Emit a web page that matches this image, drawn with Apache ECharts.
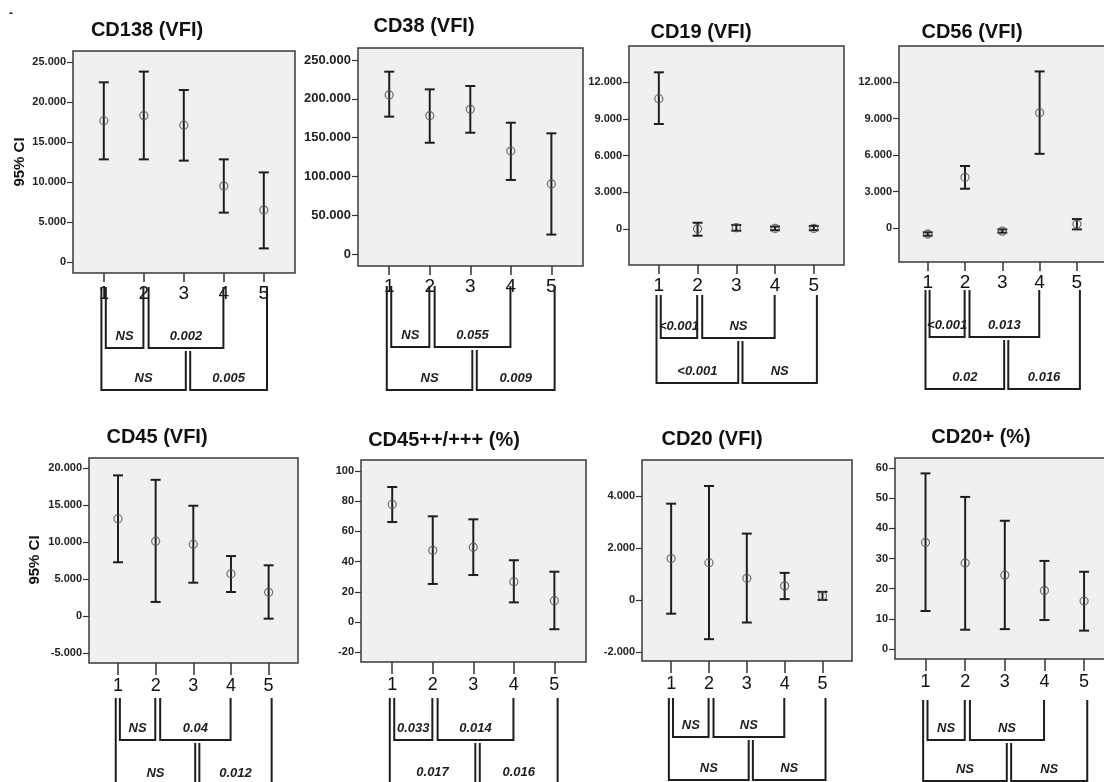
<!DOCTYPE html>
<html>
<head>
<meta charset="utf-8">
<title>CD markers 95% CI</title>
<script src="https://cdn.jsdelivr.net/npm/echarts@6.0.0/dist/echarts.min.js"></script>
<style>
  html, body { margin: 0; padding: 0; background: #fff; }
  #chart { width: 1104px; height: 782px; }
</style>
</head>
<body>
<div id="chart"></div>
<script>
// groups on the x axis
const groups = [1, 2, 3, 4, 5];

// CD138 (VFI)
const cd138Mean = [17.66, 18.3, 17.1, 9.5, 6.5];
const cd138Low = [12.83, 12.83, 12.67, 6.17, 1.7];
const cd138High = [22.46, 23.8, 21.5, 12.83, 11.2];
const cd138P = ['NS', '0.002', 'NS', '0.005'];
const cd138Ticks = [0, 5, 10, 15, 20, 25];

// CD38 (VFI)
const cd38Mean = [204.9, 178.2, 186.5, 132.7, 90.2];
const cd38Low = [177, 143.4, 156.3, 95.4, 25];
const cd38High = [235, 212.2, 216.5, 169.2, 155.5];
const cd38P = ['NS', '0.055', 'NS', '0.009'];
const cd38Ticks = [0, 50, 100, 150, 200, 250];

// CD19 (VFI)
const cd19Mean = [10.64, 0.02, 0.1, 0.05, 0.05];
const cd19Low = [8.57, -0.55, -0.14, -0.1, -0.1];
const cd19High = [12.79, 0.51, 0.33, 0.2, 0.25];
const cd19P = ['<0.001', 'NS', '<0.001', 'NS'];
const cd19Ticks = [0, 3, 6, 9, 12];

// CD56 (VFI)
const cd56Mean = [-0.49, 4.17, -0.25, 9.47, 0.33];
const cd56Low = [-0.63, 3.23, -0.38, 6.1, -0.11];
const cd56High = [-0.35, 5.1, -0.11, 12.87, 0.74];
const cd56P = ['<0.001', '0.013', '0.02', '0.016'];
const cd56Ticks = [0, 3, 6, 9, 12];

// CD45 (VFI)
const cd45Mean = [13.15, 10.1, 9.7, 5.7, 3.2];
const cd45Low = [7.26, 1.9, 4.5, 3.24, -0.36];
const cd45High = [19.0, 18.4, 14.9, 8.1, 6.85];
const cd45P = ['NS', '0.04', 'NS', '0.012'];
const cd45Ticks = [-5, 0, 5, 10, 15, 20];

// CD45++/+++ (%)
const cd45hiMean = [77.9, 47.5, 49.5, 26.7, 14.1];
const cd45hiLow = [66.2, 25.2, 31.1, 13, -4.8];
const cd45hiHigh = [89.4, 70, 68, 40.9, 33.3];
const cd45hiP = ['0.033', '0.014', '0.017', '0.016'];
const cd45hiTicks = [-20, 0, 20, 40, 60, 80, 100];

// CD20 (VFI)
const cd20Mean = [1.59, 1.43, 0.83, 0.54, 0.15];
const cd20Low = [-0.53, -1.51, -0.87, 0.03, 0.0];
const cd20High = [3.7, 4.38, 2.55, 1.04, 0.31];
const cd20P = ['NS', 'NS', 'NS', 'NS'];
const cd20Ticks = [-2, 0, 2, 4];

// CD20+ (%)
const cd20posMean = [35.3, 28.5, 24.5, 19.4, 15.9];
const cd20posLow = [12.6, 6.4, 6.6, 9.6, 6.1];
const cd20posHigh = [58.2, 50.4, 42.5, 29.2, 25.6];
const cd20posP = ['NS', 'NS', 'NS', 'NS'];
const cd20posTicks = [0, 10, 20, 30, 40, 50, 60];

// comparison brackets: 1-2, 2-4, 1-3, 3-5 (x ends in group units)
const bracketX = [[1.05, 1.99], [2.12, 3.99], [0.94, 3.05], [3.16, 5.08]];

const thousands = v => (v === 0 ? '0' : v + '.000');
const plain = v => String(v);

const panels = [
  { title: 'CD138 (VFI)', mean: cd138Mean, low: cd138Low, high: cd138High, p: cd138P, ticks: cd138Ticks, fmt: thousands },
  { title: 'CD38 (VFI)', mean: cd38Mean, low: cd38Low, high: cd38High, p: cd38P, ticks: cd38Ticks, fmt: thousands },
  { title: 'CD19 (VFI)', mean: cd19Mean, low: cd19Low, high: cd19High, p: cd19P, ticks: cd19Ticks, fmt: thousands },
  { title: 'CD56 (VFI)', mean: cd56Mean, low: cd56Low, high: cd56High, p: cd56P, ticks: cd56Ticks, fmt: thousands },
  { title: 'CD45 (VFI)', mean: cd45Mean, low: cd45Low, high: cd45High, p: cd45P, ticks: cd45Ticks, fmt: thousands },
  { title: 'CD45++/+++ (%)', mean: cd45hiMean, low: cd45hiLow, high: cd45hiHigh, p: cd45hiP, ticks: cd45hiTicks, fmt: plain },
  { title: 'CD20 (VFI)', mean: cd20Mean, low: cd20Low, high: cd20High, p: cd20P, ticks: cd20Ticks, fmt: thousands },
  { title: 'CD20+ (%)', mean: cd20posMean, low: cd20posLow, high: cd20posHigh, p: cd20posP, ticks: cd20posTicks, fmt: plain }
];

// layout: plot box [left, top, right, bottom], y range, title centre, bracket offsets below box
const layout = [
  { box: [73, 51, 295, 273], y: [-1.375, 26.375], t: [147, 30], br: [14, 75, 117], lab: 11, row: 0 },
  { box: [358, 48, 583, 266], y: [-15.5, 265.5], t: [424, 26], br: [20, 81, 124], lab: 13, row: 0 },
  { box: [629, 46, 844, 265], y: [-2.94, 14.94], t: [701, 32], br: [30, 73, 118], lab: 11, row: 0 },
  { box: [899, 46, 1106, 262], y: [-2.79, 14.96], t: [972, 32], br: [28, 75, 127], lab: 11, row: 0 },
  { box: [89, 458, 298, 663], y: [-6.35, 21.35], t: [157, 437], br: [35, 77, 122], lab: 11, row: 1 },
  { box: [361, 460, 586, 662], y: [-26.5, 107.3], t: [444, 440], br: [36, 78, 122], lab: 11, row: 1 },
  { box: [642, 460, 852, 661], y: [-2.35, 5.38], t: [712, 439], br: [37, 76, 119], lab: 11, row: 1 },
  { box: [895, 458, 1115, 659], y: [-3.3, 63.3], t: [981, 437], br: [41, 81, 122], lab: 11, row: 1 }
];

const ink = '#1e1e1e';

function renderErrorBar(params, api) {
  const x = api.value(0);
  const lo = api.coord([x, api.value(1)]);
  const hi = api.coord([x, api.value(2)]);
  const w = 5;
  const style = { stroke: ink, lineWidth: 2 };
  return {
    type: 'group',
    children: [
      { type: 'line', shape: { x1: lo[0], y1: hi[1], x2: lo[0], y2: lo[1] }, style },
      { type: 'line', shape: { x1: lo[0] - w, y1: hi[1], x2: lo[0] + w, y2: hi[1] }, style },
      { type: 'line', shape: { x1: lo[0] - w, y1: lo[1], x2: lo[0] + w, y2: lo[1] }, style }
    ]
  };
}

function bracketSeries(idx, pvals, off) {
  return {
    type: 'custom',
    xAxisIndex: idx,
    yAxisIndex: idx,
    clip: false,
    silent: true,
    z: 5,
    data: bracketX.map((b, k) => [b[0], b[1], k]),
    encode: { x: [0, 1], y: 2 },
    renderItem(params, api) {
      const k = api.value(2);
      const cs = params.coordSys;
      const base = cs.y + cs.height;
      const x1 = api.coord([api.value(0), 0])[0];
      const x2 = api.coord([api.value(1), 0])[0];
      const yStart = base + off[0];
      const yMid = base + off[1];
      const yLow = base + off[2];
      let pts, ty;
      if (k < 2) {
        pts = [[x1, yStart], [x1, yMid], [x2, yMid], [x2, yStart]];
        ty = yMid - 12;
      } else if (k === 2) {
        pts = [[x1, yStart], [x1, yLow], [x2, yLow], [x2, yMid + 3]];
        ty = yLow - 12;
      } else {
        pts = [[x1, yMid + 3], [x1, yLow], [x2, yLow], [x2, yStart]];
        ty = yLow - 12;
      }
      return {
        type: 'group',
        children: [
          { type: 'polyline', shape: { points: pts }, style: { stroke: ink, lineWidth: 2, fill: null } },
          {
            type: 'text', x: (x1 + x2) / 2, y: ty,
            style: { text: pvals[k], font: 'italic bold 13px Arial', fill: ink, align: 'center', verticalAlign: 'middle' }
          }
        ]
      };
    }
  };
}

const grid = [], xAxis = [], yAxis = [], series = [], graphic = [];

panels.forEach((pn, i) => {
  const L = layout[i];
  const [l, t, r, b] = L.box;
  const xTick = L.row ? 12 : 9;
  grid.push({
    left: l, top: t, width: r - l, height: b - t,
    show: true, backgroundColor: '#f0f0f0', borderColor: '#3a3a3a', borderWidth: 1.5,
    containLabel: false, outerBoundsMode: 'none'
  });
  xAxis.push({
    gridIndex: i, type: 'value', min: 0.23, max: 5.78, position: 'bottom',
    splitLine: { show: false },
    axisLine: { show: false, onZero: false },
    axisTick: { show: true, customValues: groups, length: xTick, lineStyle: { color: '#333', width: 1.5 } },
    axisLabel: {
      customValues: groups, margin: xTick + 2, color: '#111',
      fontFamily: 'Arial', fontSize: L.row ? 18 : 19, formatter: v => String(v)
    }
  });
  yAxis.push({
    gridIndex: i, type: 'value', min: L.y[0], max: L.y[1], position: 'left',
    splitLine: { show: false },
    axisLine: { show: false, onZero: false },
    axisTick: { show: true, customValues: pn.ticks, length: 6, lineStyle: { color: '#333', width: 1.2 } },
    axisLabel: {
      customValues: pn.ticks, margin: 7, color: '#222',
      fontFamily: 'Arial', fontWeight: 'bold', fontSize: L.lab, formatter: pn.fmt
    }
  });
  series.push({
    type: 'custom', xAxisIndex: i, yAxisIndex: i, silent: true,
    data: groups.map((g, k) => [g, pn.low[k], pn.high[k]]),
    encode: { x: 0, y: [1, 2] },
    renderItem: renderErrorBar
  });
  series.push({
    type: 'scatter', xAxisIndex: i, yAxisIndex: i, silent: true, z: 3,
    symbol: 'circle', symbolSize: 8,
    itemStyle: { color: 'rgba(0,0,0,0)', borderColor: '#555', borderWidth: 1.3 },
    data: groups.map((g, k) => [g, pn.mean[k]])
  });
  series.push(bracketSeries(i, pn.p, L.br));
  graphic.push({
    type: 'text', x: L.t[0], y: L.t[1],
    style: { text: pn.title, font: 'bold 20px Arial', fill: '#111', align: 'center', verticalAlign: 'middle' }
  });
});

// y axis names on the left column
graphic.push({
  type: 'text', x: 20, y: 162, rotation: Math.PI / 2,
  style: { text: '95% CI', font: 'bold 15px Arial', fill: '#111', align: 'center', verticalAlign: 'middle' }
});
graphic.push({
  type: 'text', x: 35, y: 560, rotation: Math.PI / 2,
  style: { text: '95% CI', font: 'bold 15px Arial', fill: '#111', align: 'center', verticalAlign: 'middle' }
});
graphic.push({
  type: 'text', x: 11, y: 13,
  style: { text: '-', font: 'bold 13px Arial', fill: '#333', align: 'center', verticalAlign: 'middle' }
});

const myChart = echarts.init(document.getElementById('chart'), null, { renderer: 'canvas' });
myChart.setOption({
  animation: false,
  backgroundColor: '#fff',
  grid, xAxis, yAxis, series, graphic
});
window.addEventListener('resize', () => {
  myChart.resize();
});
</script>
</body>
</html>
